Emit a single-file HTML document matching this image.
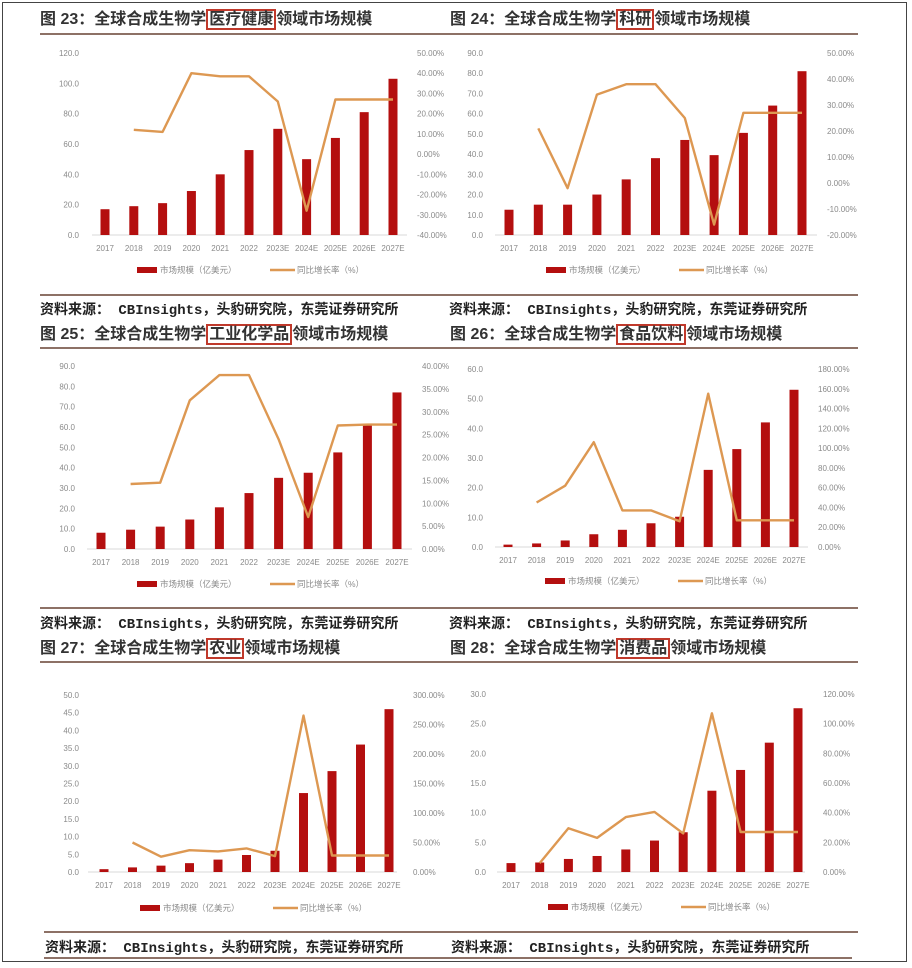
<!DOCTYPE html>
<html><head><meta charset="utf-8">
<style>
body{margin:0;background:#fff;width:912px;height:968px;overflow:hidden;position:relative;font-family:"Liberation Sans","Noto Sans CJK SC",sans-serif;}
.frame{position:absolute;left:2px;top:2px;width:905px;height:960px;border:1px solid #444;box-sizing:border-box;}
.title{position:absolute;font-size:16px;font-weight:bold;color:#333;white-space:nowrap;line-height:20px;font-family:"Liberation Sans","Noto Sans CJK SC",sans-serif;}
.kw{border:2px solid #c0392b;padding:0 1px;}
.src{position:absolute;font-size:14px;font-weight:bold;color:#222;white-space:nowrap;font-family:"Liberation Mono","Noto Sans CJK SC",monospace;}
.hl{position:absolute;height:2px;background:#8d7166;}
svg{position:absolute;left:0;top:0;}
</style></head><body>
<div class="frame"></div>

<div class="title" style="left:40px;top:10px">图 23：全球合成生物学<span class="kw">医疗健康</span>领域市场规模</div>
<div class="title" style="left:450px;top:10px">图 24：全球合成生物学<span class="kw">科研</span>领域市场规模</div>
<div class="title" style="left:40px;top:325px">图 25：全球合成生物学<span class="kw">工业化学品</span>领域市场规模</div>
<div class="title" style="left:450px;top:325px">图 26：全球合成生物学<span class="kw">食品饮料</span>领域市场规模</div>
<div class="title" style="left:40px;top:639px">图 27：全球合成生物学<span class="kw">农业</span>领域市场规模</div>
<div class="title" style="left:450px;top:639px">图 28：全球合成生物学<span class="kw">消费品</span>领域市场规模</div>

<div class="hl" style="left:40px;top:33px;width:400px"></div>
<div class="hl" style="left:440px;top:33px;width:418px"></div>
<div class="hl" style="left:40px;top:294px;width:400px"></div>
<div class="hl" style="left:440px;top:294px;width:418px"></div>
<div class="hl" style="left:40px;top:347px;width:400px"></div>
<div class="hl" style="left:440px;top:347px;width:418px"></div>
<div class="hl" style="left:40px;top:607px;width:400px"></div>
<div class="hl" style="left:440px;top:607px;width:418px"></div>
<div class="hl" style="left:40px;top:661px;width:400px"></div>
<div class="hl" style="left:440px;top:661px;width:418px"></div>
<div class="hl" style="left:44px;top:931px;width:396px"></div>
<div class="hl" style="left:440px;top:931px;width:418px"></div>
<div class="hl" style="left:44px;top:957px;width:396px"></div>
<div class="hl" style="left:440px;top:957px;width:412px"></div>

<div class="src" style="left:40px;top:299px">资料来源：  CBInsights，头豹研究院，东莞证券研究所</div>
<div class="src" style="left:449px;top:299px">资料来源：  CBInsights，头豹研究院，东莞证券研究所</div>
<div class="src" style="left:40px;top:613px">资料来源：  CBInsights，头豹研究院，东莞证券研究所</div>
<div class="src" style="left:449px;top:613px">资料来源：  CBInsights，头豹研究院，东莞证券研究所</div>
<div class="src" style="left:45px;top:937px">资料来源：  CBInsights，头豹研究院，东莞证券研究所</div>
<div class="src" style="left:451px;top:937px">资料来源：  CBInsights，头豹研究院，东莞证券研究所</div>

<svg id="chart" width="912" height="968"></svg>

<script>
const categories = ["2017","2018","2019","2020","2021","2022","2023E","2024E","2025E","2026E","2027E"];
const bars23 = [17,19,21,29,40,56,70,50,64,81,103];
const growth23 = [null,12,11,40,38.5,38.5,26,-28,27,27,27];
const bars24 = [12.5,15,15,20,27.5,38,47,39.5,50.5,64,81];
const growth24 = [null,21,-2,34,38,38,25,-16,27,27,27];
const bars25 = [8,9.5,11,14.5,20.5,27.5,35,37.5,47.5,61,77];
const growth25 = [null,14.2,14.5,32.5,38,38,24,7,27,27.2,27.2];
const bars26 = [0.8,1.2,2.2,4.3,5.8,8,10.2,26,33,42,53];
const growth26 = [null,45,62,106,37,37,26,155,27,27,27];
const bars27 = [0.8,1.3,1.8,2.5,3.5,4.8,6,22.3,28.5,36,46];
const growth27 = [null,50,26,37,35,40,27,265,28,28,28];
const bars28 = [1.5,1.6,2.2,2.7,3.8,5.3,6.7,13.7,17.2,21.8,27.6];
const growth28 = [null,6,29.5,23,37,40.5,26,107,27,27,27];
const leftTicks23=[0,20,40,60,80,100,120], rightTicks23=[-40,-30,-20,-10,0,10,20,30,40,50];
const leftTicks24=[0,10,20,30,40,50,60,70,80,90], rightTicks24=[-20,-10,0,10,20,30,40,50];
const leftTicks25=[0,10,20,30,40,50,60,70,80,90], rightTicks25=[0,5,10,15,20,25,30,35,40];
const leftTicks26=[0,10,20,30,40,50,60], rightTicks26=[0,20,40,60,80,100,120,140,160,180];
const leftTicks27=[0,5,10,15,20,25,30,35,40,45,50], rightTicks27=[0,50,100,150,200,250,300];
const leftTicks28=[0,5,10,15,20,25,30], rightTicks28=[0,20,40,60,80,100,120];

const panels=[
 {id:"23",bars:bars23,growth:growth23,lt:leftTicks23,rt:rightTicks23,top:53,bot:235,lx:79,bx0:92,bx1:407,c0:105,c1:393,rx:417,xl:251,lg:270,leg0:137},
 {id:"24",bars:bars24,growth:growth24,lt:leftTicks24,rt:rightTicks24,top:53,bot:235,lx:483,bx0:495,bx1:817,c0:509,c1:802,rx:827,xl:251,lg:270,leg0:546},
 {id:"25",bars:bars25,growth:growth25,lt:leftTicks25,rt:rightTicks25,top:366,bot:549,lx:75,bx0:87,bx1:412,c0:101,c1:397,rx:422,xl:565,lg:584,leg0:137},
 {id:"26",bars:bars26,growth:growth26,lt:leftTicks26,rt:rightTicks26,top:369,bot:547,lx:483,bx0:495,bx1:808,c0:508,c1:794,rx:818,xl:563,lg:581,leg0:545},
 {id:"27",bars:bars27,growth:growth27,lt:leftTicks27,rt:rightTicks27,top:695,bot:872,lx:79,bx0:88,bx1:397,c0:104,c1:389,rx:413,xl:888,lg:908,leg0:140},
 {id:"28",bars:bars28,growth:growth28,lt:leftTicks28,rt:rightTicks28,top:694,bot:872,lx:486,bx0:497,bx1:805,c0:511,c1:798,rx:823,xl:888,lg:907,leg0:548}
];
const NS="http://www.w3.org/2000/svg";
const svg=document.getElementById('chart');
function mk(tag,attrs,parent){const e=document.createElementNS(NS,tag);for(const k in attrs)e.setAttribute(k,attrs[k]);(parent||svg).appendChild(e);return e;}
panels.forEach(p=>{
  const g=mk('g',{});
  
  
  const lmax=p.lt[p.lt.length-1], rmin=p.rt[0], rmax=p.rt[p.rt.length-1];
  const yL=v=>p.bot-(v/lmax)*(p.bot-p.top);
  const yR=v=>p.bot-((v-rmin)/(rmax-rmin))*(p.bot-p.top);
  const xC=i=>p.c0+i*(p.c1-p.c0)/(categories.length-1);
  p.lt.forEach(t=>{const e=mk('text',{x:p.lx,y:yL(t)+3,'text-anchor':'end','font-size':8,fill:'#8a8a8a'},g);e.textContent=t.toFixed(1);
    });
  p.rt.forEach(t=>{const e=mk('text',{x:p.rx,y:yR(t)+3,'font-size':8,fill:'#8a8a8a'},g);e.textContent=t.toFixed(2)+'%';
    });
  const base=mk('line',{x1:p.bx0,x2:p.bx1,y1:p.bot,y2:p.bot,stroke:'#d9d9d9','stroke-width':1},g);
  
  p.bars.forEach((v,i)=>{const r=mk('rect',{x:xC(i)-4.5,y:yL(v),width:9,height:p.bot-yL(v),fill:'#b40f0f'},g);
    });
  const pts=[];p.growth.forEach((v,i)=>{if(v!==null)pts.push(xC(i).toFixed(1)+','+yR(v).toFixed(1));});
  const pl=mk('polyline',{points:pts.join(' '),fill:'none',stroke:'#dd9852','stroke-width':2.4,'stroke-linejoin':'round'},g);
  
  categories.forEach((c,i)=>{const e=mk('text',{x:xC(i),y:p.xl,'text-anchor':'middle','font-size':8,fill:'#8a8a8a'},g);e.textContent=c;
    });
  const s1=mk('rect',{x:p.leg0,y:p.lg-3,width:20,height:6,fill:'#b40f0f'},g);
  
  const t1=mk('text',{x:p.leg0+23,y:p.lg+3,'font-size':8.5,fill:'#8a8a8a'},g);t1.textContent='市场规模（亿美元）';
  
  const s2=mk('line',{x1:p.leg0+133,x2:p.leg0+158,y1:p.lg,y2:p.lg,stroke:'#dd9852','stroke-width':2.4},g);
  
  const t2=mk('text',{x:p.leg0+160,y:p.lg+3,'font-size':8.5,fill:'#8a8a8a'},g);t2.textContent='同比增长率（%）';
  
});
</script>
</body></html>
